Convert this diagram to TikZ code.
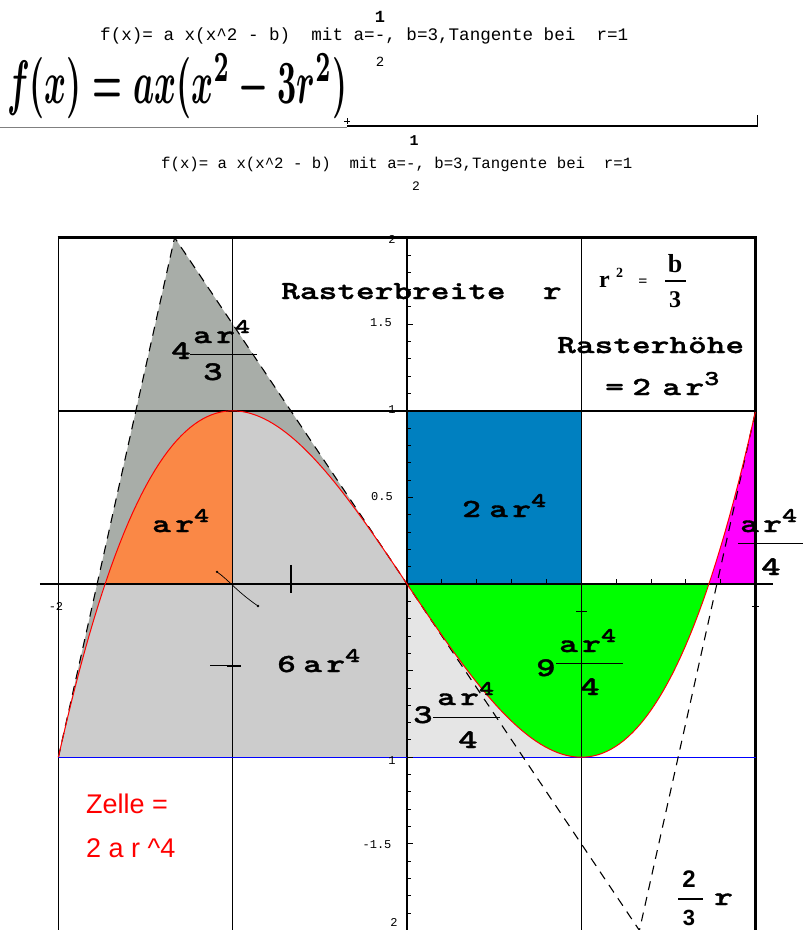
\documentclass[tikz,border=0pt]{standalone}
\usepackage{fontspec}
\usepackage{graphicx}
\setmainfont{Liberation Serif}
\newfontfamily\cour{Liberation Mono}
\newfontfamily\lmw{lmmonolt10-bold}[Extension=.otf, FakeStretch=1.37, FakeBold=1.3]
\newfontfamily\arialf{Liberation Sans}
\newcommand\myfs[1]{\fontsize{#1}{#1}\selectfont}
\newcommand\myar{a\hspace{4.4pt}r}
\newcommand\hoch[1]{\raisebox{10pt}{\myfs{21}#1}}
\definecolor{dgray}{RGB}{168,173,168}
\definecolor{lgray}{RGB}{204,204,204}
\definecolor{llgray}{RGB}{229,229,229}
\definecolor{orng}{RGB}{250,136,70}
\definecolor{bblue}{RGB}{0,128,192}
\definecolor{ggreen}{RGB}{0,255,0}
\definecolor{mmag}{RGB}{255,0,255}
\tikzset{
  lbl/.style={font=\lmw\myfs{26}, inner sep=0pt, anchor=base west},
  num/.style={font=\lmw\myfs{27}, inner sep=0pt, anchor=base west},
  tinylbl/.style={font=\cour\myfs{12}, inner sep=0pt},
  serb/.style={font=\bfseries\myfs{24}, inner sep=0pt},
  topline/.style={font=\cour\myfs{17.6}, inner sep=0pt, anchor=base west},
  topline2/.style={font=\cour\myfs{15.7}, inner sep=0pt, anchor=base west},
  fracbar/.style={line width=1pt},
  tangent/.style={dash pattern=on 9pt off 7pt, line width=1.1pt},
  declare function={f(\x)=0.5*\x*(\x*\x-3);}
}
\begin{document}
\begin{tikzpicture}[x=1pt,y=-1pt]
\useasboundingbox (0,0) rectangle (803,930);
% ---------- header ----------
\node[font=\cour\bfseries\myfs{17}, inner sep=0pt] (o1) at (380,17) {1};
\node[topline] (t1) at (100,40) {f(x)=\ a\ x(x\textasciicircum 2\ -\ b)\ \ mit\ a=-,\ b=3,Tangente\ bei\ \ r=1};
\node[font=\cour\myfs{14}, inner sep=0pt] (u1) at (380,62) {2};
\node[anchor=west, inner sep=0pt] (hw) at (7,86) {\resizebox{340pt}{50pt}{\boldmath$f(x)=ax(x^2-3r^2)$}};
\draw[gray, line width=0.8pt] (0,127) -- (347,127);
\draw[line width=1.8pt] (347,126) -- (757,126);
\draw[line width=0.8pt] (757,127) -- (757,115);
\draw[line width=0.7pt] (344,121) -- (350,121) (347,118) -- (347,124);
\node[font=\cour\bfseries\myfs{15}, inner sep=0pt] (o2) at (414,141) {1};
\node[topline2] (t2) at (161,168) {f(x)=\ a\ x(x\textasciicircum 2\ -\ b)\ \ mit\ a=-,\ b=3,Tangente\ bei\ \ r=1};
\node[font=\cour\myfs{13}, inner sep=0pt] (u2) at (416,186) {2};
% ---------- plot ----------
\begin{scope}[shift={(407,584)}, x=174.3pt, y=173.2pt]
  \fill[dgray] (-2,-1) -- (-1.33333,2) -- (0,0) -- cycle;
  \fill[lgray] (-2,-1) -- plot[domain=-2:0,samples=80] (\x,{f(\x)}) -- (0,-1) -- cycle;
  \fill[llgray] plot[domain=0:1,samples=50] (\x,{f(\x)}) -- (0,-1) -- cycle;
  \fill[ggreen] plot[domain=0:1.7320508,samples=80] (\x,{f(\x)}) -- cycle;
  \fill[orng] plot[domain=-1.7320508:-1,samples=50] (\x,{f(\x)}) -- (-1,0) -- cycle;
  \fill[mmag] plot[domain=1.7320508:2,samples=30] (\x,{f(\x)}) -- (2,0) -- cycle;
  \fill[bblue] (0,0) rectangle (1,1);
  % grid and frame
  \draw[line width=1.2pt] (-1,2) -- (-1,-2.1) (0,2) -- (0,-2.1) (1,2) -- (1,-2.1);
  \draw[line width=1.6pt] (-2,2) -- (-2,-2.1);
  \draw[line width=3pt] (2,2) -- (2,-2.1);
  \draw[line width=2.5pt] (-2.005,2) -- (2.008,2);
  \draw[line width=2.5pt] (-2,1) -- (2,1);
  \draw[line width=2.5pt] (-2.106,0) -- (2.1,0);
  \draw[blue, line width=1.2pt] (-2,-1) -- (2,-1);
  % ticks
  \foreach \k in {-20,...,20} \draw[line width=0.8pt] (0,\k/10) -- ++(4pt,0);
  \foreach \v in {-2,-1.5,...,2} \draw[line width=1pt] (0,\v) -- ++(6pt,0);
  \foreach \k in {1,...,9} \draw[line width=0.8pt] (\k/5,0) -- ++(0,5pt);
  \draw[line width=2pt] (-0.666,0.11) -- (-0.666,-0.05);
  \draw[line width=1pt] (-1.13,-0.473) -- (-0.95,-0.473);
  \draw[line width=2.5pt] (-1.03,-0.473) -- (-0.95,-0.473);
  \draw[line width=0.8pt] (0.97,-0.156) -- (1.03,-0.156);
  \draw[line width=0.8pt] (1.98,-0.13) -- (2.02,-0.13);
  \draw[line width=0.7pt] (-1.09,0.07) .. controls (-1.02,0.02) and (-0.98,-0.04) .. (-0.855,-0.127);
  \fill (-1.09,0.07) circle (1.3pt);
  \fill (-0.855,-0.127) circle (1.3pt);
  % tangents and curve
  \draw[tangent] (-2,-1) -- (-1.33333,2) -- (1.33333,-2) -- (2,1);
  \draw[red, line width=1pt] plot[domain=-2:2,samples=160] (\x,{f(\x)});
\end{scope}
% axis labels
\node[tinylbl] (y15) at (381,323) {1.5};
\node[tinylbl] (y05) at (382,497) {0.5};
\node[tinylbl] (y1) at (392,410) {1};
\node[tinylbl] (y2) at (392,239) {2};
\node[tinylbl] (ym1) at (392,761) {1};
\node[tinylbl] (ym15) at (377,845) {-1.5};
\node[tinylbl] (ym2) at (394,922) {2};
\node[tinylbl] (xm2) at (56,606) {-2};
% ---------- labels ----------
\node[lbl] (rb) at (281,299) {Rasterbreite\ \ r};
\node[serb, anchor=base west] (r2r) at (599,287) {r};
\node[font=\bfseries\myfs{14}, inner sep=0pt, anchor=base west] (r2e) at (616,277) {2};
\node[font=\bfseries\myfs{16}, inner sep=0pt, anchor=base] (r2q) at (643,286) {=};
\node[font=\bfseries\myfs{26}, inner sep=0pt, anchor=base] (r2b) at (675,272) {b};
\draw[line width=1.2pt] (665,281) -- (686,281);
\node[serb, anchor=base] (r23) at (675,307) {3};
\node[lbl] (rh) at (557,353) {Rasterhöhe};
\node[lbl] (rh2) at (605,395) {=\hspace{8.4pt}2\hspace{11.4pt}\myar\hoch{3}};
% 4 ar^4/3
\node[num] (f1n) at (171,359) {4};
\node[lbl] (f1a) at (193,343) {\myar\hoch{4}};
\draw[fracbar] (190,354) -- (257,354);
\node[num] (f1d) at (203,380) {3};
% orange
\node[lbl] (lo) at (152,532) {\myar\hoch{4}};
% blue
\node[lbl] (lb) at (462,517) {2\hspace{8.4pt}\myar\hoch{4}};
% magenta
\node[lbl] (lm) at (740,532) {\myar\hoch{4}};
\draw[fracbar] (738,543) -- (803,543);
\node[num] (lm4) at (761,575) {4};
% 6 ar^4
\node[lbl] (l6) at (277,672) {6\hspace{7.4pt}\myar\hoch{4}};
% 9 ar^4/4
\node[num] (n9) at (536,676) {9};
\node[lbl] (n9a) at (559,652) {\myar\hoch{4}};
\draw[fracbar] (556,663) -- (623,663);
\node[num] (n9d) at (580,695) {4};
% 3 ar^4/4
\node[num] (n3) at (413,723) {3};
\node[lbl] (n3a) at (437,705) {\myar\hoch{4}};
\draw[fracbar] (433,717) -- (500,717);
\node[num] (n3d) at (458,748) {4};
% Zelle
\node[font=\arialf\myfs{27}, text=red, inner sep=0pt, anchor=base west] (z1) at (86,813) {Zelle =};
\node[font=\arialf\myfs{27}, text=red, inner sep=0pt, anchor=base west] (z2) at (86,857) {2 a r \textasciicircum 4};
% 2/3 r
\node[font=\arialf\bfseries\myfs{24}, inner sep=0pt, anchor=base] (t23a) at (689,887) {2};
\draw[line width=2.5pt] (678,899) -- (703,899);
\node[font=\arialf\bfseries\myfs{22}, inner sep=0pt, anchor=base] (t23b) at (689,925) {3};
\node[lbl] (t23r) at (714,905) {r};
\end{tikzpicture}
\end{document}
